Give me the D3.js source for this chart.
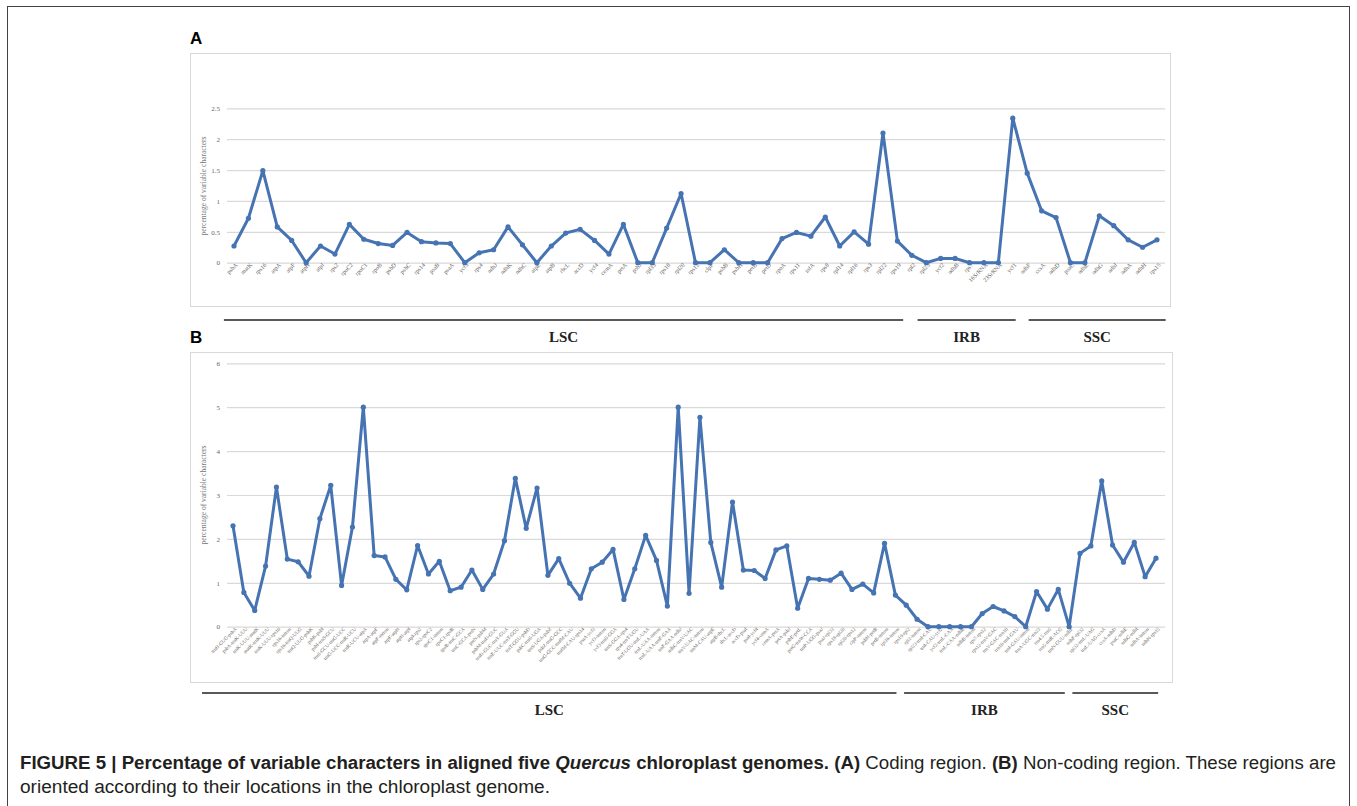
<!DOCTYPE html>
<html>
<head>
<meta charset="utf-8">
<script src="https://cdnjs.cloudflare.com/ajax/libs/d3/7.8.5/d3.min.js"></script>
<style>
  body { margin: 0; background: #fff; }
</style>
</head>
<body>
<svg id="fig" width="1357" height="806"></svg>
<script>
// ---- panel A: coding regions ----
var genesA = ["psbA","matK","rps16","atpA","atpF","atpH","atpI","rps2","rpoC2","rpoC1",
  "rpoB","psbD","psbC","rps14","psaB","psaA","ycf3","rps4","ndhJ","ndhK",
  "ndhC","atpE","atpB","rbcL","accD","ycf4","cemA","petA","psbJ","rpl33",
  "rps18","rpl20","rps12","clpP","psbB","psbH","petB","petD","rpoA","rps11",
  "infA","rps8","rpl14","rpl16","rps3","rpl22","rps19","rpl2","rpl23","ycf2",
  "ndhB","rps7","16SrRNA","23SrRNA","ycf1","ndhF","ccsA","ndhD","psaC","ndhE",
  "ndhG","ndhI","ndhA","ndhH","rps15"];
var valuesA = [0.27,0.72,1.49,0.58,0.36,0,0.27,0.14,0.62,0.38,
  0.31,0.28,0.49,0.34,0.32,0.31,0,0.16,0.21,0.58,
  0.29,0,0.27,0.48,0.54,0.36,0.14,0.62,0,0,
  0.56,1.12,0,0,0.21,0,0,0,0.39,0.49,
  0.43,0.74,0.27,0.50,0.30,2.10,0.35,0.12,0,0.07,
  0.07,0,0,0,2.34,1.45,0.84,0.73,0,0,
  0.76,0.60,0.37,0.25,0.37];
var ticksA = [0, 0.5, 1, 1.5, 2, 2.5];

// ---- panel B: non-coding regions ----
var spacersB = ["trnH-GUG-psbA","psbA-trnK-UUU","trnK-UUU-matK","matK-trnK-UUU","trnK-UUU-rps16",
  "rps16-intron","rps16-trnQ-UUG","trnQ-UUG-psbK","psbK-psbI","psbI-trnS-GCU",
  "trnS-GCU-trnG-UCC","trnG-UCC-trnR-UCU","trnR-UCU-atpA","atpA-atpF","atpF-intron",
  "atpF-atpH","atpH-atpI","atpI-rps2","rps2-rpoC2","rpoC1-intron",
  "rpoC1-rpoB","rpoB-trnC-GCA","trnC-GCA-petN","petN-psbM","psbM-trnD-GUC",
  "trnD-GUC-trnY-GUA","trnE-UUC-trnT-GGU","trnT-GGU-psbD","psbC-trnS-UGA","trnS-UGA-psbZ",
  "psbZ-trnG-GCC","trnG-GCC-trnfM-CAU","trnfM-CAU-rps14","psaA-ycf3","ycf3-intron",
  "ycf3-trnS-GGA","trnS-GGA-rps4","rps4-trnT-UGU","trnT-UGU-trnL-UAA","trnL-UAA-intron",
  "trnL-UAA-trnF-GAA","trnF-GAA-ndhJ","ndhC-trnV-UAC","trnV-UAC-intron","trnM-CAU-atpE",
  "atpB-rbcL","rbcL-accD","accD-psaI","psaI-ycf4","ycf4-cemA",
  "cemA-petA","petA-psbJ","psbE-petL","petG-trnW-CCA","trnP-UGG-psaJ",
  "psaJ-rpl33","rps18-rpl20","rpl20-rps12","clpP-intron","psbH-petB",
  "petB-intron","rpl16-intron","rps19-rpl2","rpl2-intron","rpl23-trnI-CAU",
  "trnI-CAU-ycf2","ycf2-trnL-CAA","trnL-CAA-ndhB","ndhB-intron","rps7-rps12",
  "rps12-trnV-GAC","trnV-GAC-rrn16","rrn16-trnI-GAU","trnI-GAU-intron","trnA-UGC-rrn23",
  "rrn4.5-rrn5","rrn5-trnR-ACG","trnN-GUU-ndhF","ndhF-rpl32","rpl32-trnL-UAG",
  "trnL-UAG-ccsA","ccsA-ndhD","psaC-ndhE","ndhG-ndhI","ndhA-intron",
  "ndhH-rps15"];
var valuesB = [2.30,0.78,0.37,1.38,3.18,1.54,1.48,1.15,2.46,3.22,
  0.94,2.27,5.00,1.62,1.59,1.08,0.84,1.85,1.20,1.49,
  0.82,0.90,1.29,0.85,1.20,1.96,3.38,2.24,3.16,1.17,
  1.55,0.99,0.65,1.32,1.47,1.76,0.62,1.32,2.08,1.51,
  0.47,5.00,0.76,4.77,1.92,0.90,2.84,1.29,1.28,1.10,
  1.75,1.84,0.42,1.10,1.08,1.06,1.22,0.85,0.97,0.77,
  1.90,0.72,0.49,0.17,0,0,0,0,0,0.30,
  0.46,0.36,0.23,0,0.80,0.40,0.85,0,1.67,1.84,
  3.32,1.86,1.47,1.92,1.14,1.56];
var ticksB = [0, 1, 2, 3, 4, 5, 6];

// genome regions, given as spans in category-index units
var regionNames = ["LSC", "IRB", "SSC"];
var regionSpanA = [[-0.7, 46.4], [47.4, 54.2], [55.1, 64.6]];
var regionSpanB = [[-2.85, 61.1], [61.8, 76.6], [77.3, 85.2]];

var lineColor = "#4673b2";
var svg = d3.select("#fig");

// outer frame of the figure
svg.append("rect")
  .attr("x", 7.5).attr("y", 6.5)
  .attr("width", 1342).attr("height", 810)
  .attr("fill", "none").attr("stroke", "#444").attr("stroke-width", 1);

function drawPanel(cfg) {
  var g = svg.append("g");
  // chart box
  g.append("rect")
    .attr("x", cfg.box[0] + 0.5).attr("y", cfg.box[1] + 0.5)
    .attr("width", cfg.box[2]).attr("height", cfg.box[3])
    .attr("fill", "#fff").attr("stroke", "#d9d9d9");

  g.append("text")
    .attr("x", 190).attr("y", cfg.letterY)
    .attr("font-family", "Liberation Sans, Arial, sans-serif")
    .attr("font-weight", "bold").attr("font-size", 17)
    .text(cfg.letter);

  var x = d3.scalePoint().domain(cfg.names).range(cfg.xRange);
  var step = x.step();
  var y = d3.scaleLinear().domain(cfg.yDomain).range(cfg.yRange);

  // y axis + gridlines
  var yAxis = g.append("g")
    .attr("transform", "translate(" + cfg.gridX[0] + ",0)")
    .call(d3.axisLeft(y).tickValues(cfg.ticks)
      .tickSize(-(cfg.gridX[1] - cfg.gridX[0])).tickPadding(7)
      .tickFormat(function(d) { return String(d); }));
  yAxis.select(".domain").remove();
  yAxis.selectAll(".tick line").attr("stroke", "#d9d9d9").attr("stroke-width", 1.2);
  yAxis.selectAll(".tick text")
    .attr("font-family", "Liberation Serif, serif").attr("font-size", 7)
    .attr("fill", "#666");

  // y title
  g.append("text")
    .attr("transform", "translate(" + cfg.titleX + "," + cfg.titleY + ") rotate(-90)")
    .attr("text-anchor", "middle")
    .attr("font-family", "Liberation Serif, serif").attr("font-size", 7.5)
    .attr("fill", "#777")
    .text("percentage of variable characters");

  // x labels
  var xAxis = g.append("g")
    .attr("transform", "translate(0," + (y(0) + 2) + ")")
    .call(d3.axisBottom(x).tickSize(0).tickPadding(0));
  xAxis.select(".domain").remove();
  xAxis.selectAll(".tick text")
    .attr("font-family", "Liberation Serif, serif").attr("font-size", cfg.labelSize)
    .attr("fill", "#6a625a")
    .attr("text-anchor", "end")
    .attr("dy", 0).attr("y", 3).attr("x", 2)
    .attr("transform", "rotate(-45)");

  // series
  var pts = cfg.names.map(function(n, i) { return [x(n), y(cfg.values[i])]; });
  g.append("path")
    .attr("d", d3.line()(pts))
    .attr("fill", "none").attr("stroke", lineColor)
    .attr("stroke-width", 3).attr("stroke-linejoin", "round");
  g.selectAll("circle.pt").data(pts).enter().append("circle")
    .attr("class", "pt")
    .attr("cx", function(d) { return d[0]; })
    .attr("cy", function(d) { return d[1]; })
    .attr("r", 2.6).attr("fill", lineColor);

  // genome region bars
  var x0 = cfg.xRange[0];
  cfg.spans.forEach(function(s, i) {
    var a = x0 + s[0] * step, b = x0 + s[1] * step;
    g.append("line")
      .attr("x1", a).attr("x2", b)
      .attr("y1", cfg.regionY).attr("y2", cfg.regionY)
      .attr("stroke", "#222").attr("stroke-width", 1.3);
    g.append("text")
      .attr("x", (a + b) / 2).attr("y", cfg.regionY + 22)
      .attr("text-anchor", "middle")
      .attr("font-family", "Liberation Serif, serif").attr("font-weight", "bold")
      .attr("font-size", 15).attr("fill", "#222")
      .text(regionNames[i]);
  });
}

drawPanel({
  letter: "A", letterY: 44,
  box: [190, 53, 980, 253],
  names: genesA, values: valuesA, ticks: ticksA,
  xRange: [234, 1157], gridX: [227, 1165],
  yDomain: [0, 2.5], yRange: [262.7, 108.3],
  titleX: 206, titleY: 186, labelSize: 6,
  spans: regionSpanA, regionY: 320
});

drawPanel({
  letter: "B", letterY: 343,
  box: [190, 352, 982, 330],
  names: spacersB, values: valuesB, ticks: ticksB,
  xRange: [233, 1156], gridX: [227, 1165],
  yDomain: [0, 6], yRange: [626.7, 363.3],
  titleX: 206, titleY: 495, labelSize: 5,
  spans: regionSpanB, regionY: 693
});

// caption
var cap = svg.append("g")
  .attr("font-family", "Liberation Sans, Arial, sans-serif")
  .attr("font-size", 18).attr("fill", "#231f20");
var l1 = cap.append("text").attr("x", 20).attr("y", 769)
  .attr("textLength", 1316).attr("lengthAdjust", "spacingAndGlyphs");
l1.append("tspan").attr("font-weight", "bold").text("FIGURE 5 | Percentage of variable characters in aligned five ");
l1.append("tspan").attr("font-weight", "bold").attr("font-style", "italic").text("Quercus");
l1.append("tspan").attr("font-weight", "bold").text(" chloroplast genomes. (A)");
l1.append("tspan").text(" Coding region. ");
l1.append("tspan").attr("font-weight", "bold").text("(B)");
l1.append("tspan").text(" Non-coding region. These regions are");
cap.append("text").attr("x", 20).attr("y", 793)
  .attr("textLength", 530).attr("lengthAdjust", "spacingAndGlyphs")
  .text("oriented according to their locations in the chloroplast genome.");
</script>
</body>
</html>
